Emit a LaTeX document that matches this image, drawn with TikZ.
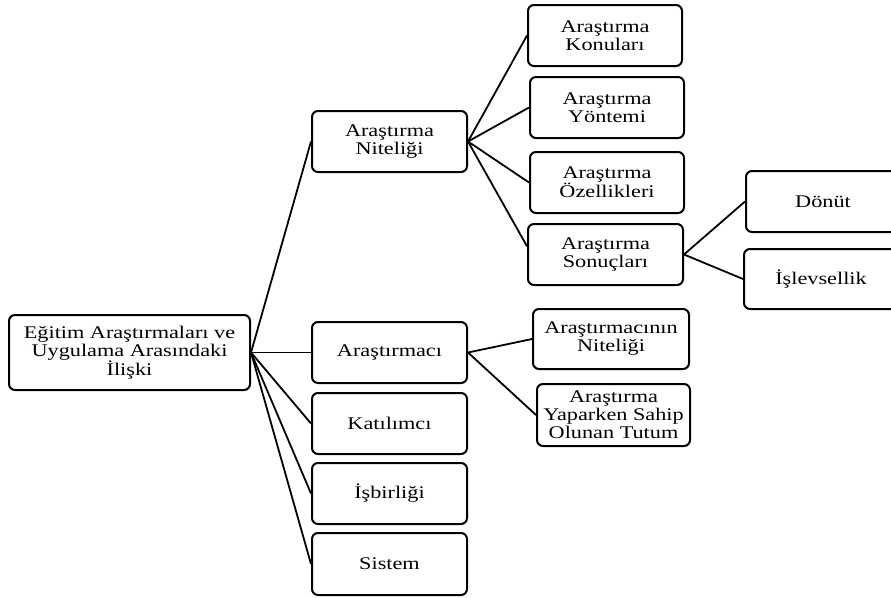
\documentclass[tikz,border=0pt]{standalone}
\usepackage{fontspec}
\setmainfont[FakeStretch=1.25]{Liberation Serif}
\begin{document}
\begin{tikzpicture}[x=1pt,y=-1pt,
  box/.style={draw, line width=2pt, rounded corners=6pt, align=center,
    font=\fontsize{17.8}{18}\selectfont, inner sep=0pt,
    minimum width=155pt, minimum height=61pt},
  link/.style={line width=1.8pt}]
\useasboundingbox (0,0) rectangle (891,597);
% level 0
\node[box, minimum width=241pt, minimum height=75pt] (root) at (129.5,352.5)
  {Eğitim Araştırmaları ve\\Uygulama Arasındaki\\İlişki};
% level 1
\node[box] (an) at (389.5,141.5) {Araştırma\\Niteliği};
\node[box] (arc) at (389.5,352.5) {Araştırmacı};
\node[box] (kat) at (389.5,423.5) {Katılımcı};
\node[box] (isb) at (389.5,493.5) {İşbirliği};
\node[box, minimum height=62pt] (sis) at (389.5,564) {Sistem};
% level 2
\node[box, minimum width=154pt] (kon) at (605,35.5) {Araştırma\\Konuları};
\node[box, minimum width=154pt] (yon) at (607,107.5) {Araştırma\\Yöntemi};
\node[box, minimum width=154pt] (oze) at (607,182.5) {Araştırma\\Özellikleri};
\node[box] (son) at (605.5,254.5) {Araştırma\\Sonuçları};
\node[box, minimum width=156pt, minimum height=60pt] (ani) at (611,339) {Araştırmacının\\Niteliği};
\node[box, minimum width=153pt, minimum height=62pt] (tut) at (613.5,415) {Araştırma\\Yaparken Sahip\\Olunan Tutum};
% level 3
\node[box, minimum width=154pt] (don) at (823,201.5) {Dönüt};
\node[box, minimum width=154pt, minimum height=60pt] (isl) at (821,279) {İşlevsellik};
% connectors
\draw[link] (root.east) -- (an.west);
\draw[link] (root.east) -- (arc.west);
\draw[link] (root.east) -- (kat.west);
\draw[link] (root.east) -- (isb.west);
\draw[link] (root.east) -- (sis.west);
\draw[link] (an.east) -- (kon.west);
\draw[link] (an.east) -- (yon.west);
\draw[link] (an.east) -- (oze.west);
\draw[link] (an.east) -- (son.174);
\draw[link] (son.east) -- (don.west);
\draw[link] (son.east) -- (isl.west);
\draw[link] (arc.east) -- (ani.west);
\draw[link] (arc.east) -- (tut.west);
\end{tikzpicture}
\end{document}
